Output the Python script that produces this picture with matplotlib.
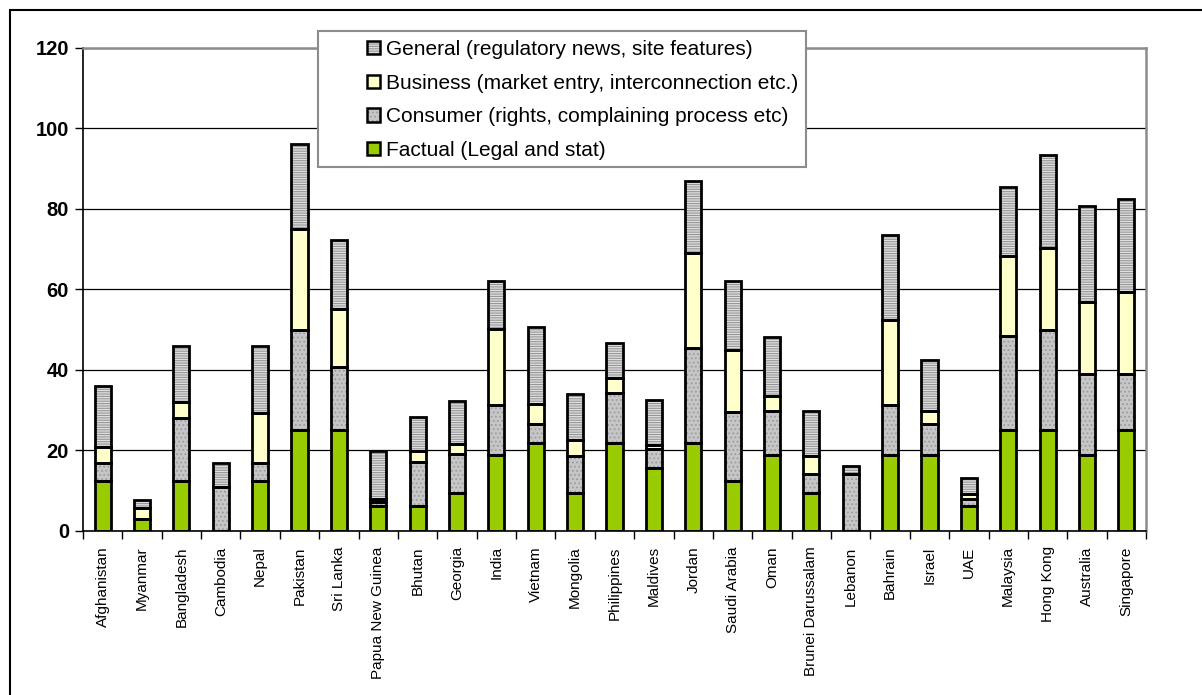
import numpy as np
import matplotlib.pyplot as plt
from matplotlib.patches import Patch, Rectangle
from matplotlib.legend_handler import HandlerTuple

plt.rcParams["font.family"] = ["Liberation Sans", "DejaVu Sans"]
plt.rcParams["hatch.linewidth"] = 0.8

countries = ["Afghanistan", "Myanmar", "Bangladesh", "Cambodia", "Nepal", "Pakistan",
             "Sri Lanka", "Papua New Guinea", "Bhutan", "Georgia", "India", "Vietnam",
             "Mongolia", "Philippines", "Maldives", "Jordan", "Saudi Arabia", "Oman",
             "Brunei Darussalam", "Lebanon", "Bahrain", "Israel", "UAE", "Malaysia",
             "Hong Kong", "Australia", "Singapore"]

factual = [12.5, 3.1, 12.5, 0, 12.5, 25.0, 25.0, 6.25, 6.25, 9.4, 18.75, 21.9, 9.4, 21.9,
           15.6, 21.9, 12.5, 18.75, 9.4, 0, 18.75, 18.75, 6.25, 25.0, 25.0, 18.75, 25.0]
consumer = [4.5, 0, 15.6, 10.9, 4.5, 25.0, 15.6, 1.0, 10.9, 9.8, 12.6, 4.7, 9.2, 12.4,
            4.7, 23.4, 17.1, 11.0, 4.7, 14.2, 12.4, 7.8, 1.7, 23.3, 24.8, 20.2, 14.0]
business = [3.9, 2.7, 3.8, 0, 12.4, 25.0, 14.6, 0.6, 2.7, 2.5, 18.7, 4.8, 3.9, 3.7,
            1.1, 23.7, 15.3, 3.7, 4.5, 0, 21.2, 3.2, 1.2, 20.0, 20.4, 17.8, 20.3]
general = [15.1, 1.9, 14.0, 6.0, 16.5, 21.1, 16.9, 12.1, 8.4, 10.6, 11.9, 19.2, 11.5, 8.7,
           11.2, 17.8, 17.2, 14.7, 11.3, 1.9, 21.0, 12.6, 4.1, 17.0, 23.2, 23.8, 23.1]

series = [
    ("Factual (Legal and stat)", factual, "#99cc00", "", "#99cc00"),
    ("Consumer (rights, complaining process etc)", consumer, "#c6c6c6", "....", "#9c9c9c"),
    ("Business (market entry, interconnection etc.)", business, "#ffffcc", "", "#ffffcc"),
    ("General (regulatory news, site features)", general, "#e0e0e0", "-------", "#969696"),
]

fig = plt.figure(figsize=(12.02, 6.95), dpi=100)
ax = fig.add_axes([83 / 1202, 1 - 531 / 695, (1146 - 83) / 1202, (531 - 47.5) / 695])

x = np.arange(len(countries))
width = 0.41
bottom = np.zeros(len(countries))
handles = []
for label, vals, color, hatch, hcolor in series:
    vals = np.array(vals)
    ax.bar(x, vals, width, bottom=bottom, color=color, hatch=hatch,
           edgecolor=hcolor, linewidth=0, zorder=2)
    ax.bar(x, vals, width, bottom=bottom, facecolor="none", edgecolor="black",
           linewidth=2, zorder=3)
    bottom += vals
    handles.append((Patch(facecolor=color, hatch=hatch, edgecolor=hcolor, linewidth=0),
                    Patch(facecolor="none", edgecolor="black", linewidth=1.8), label))

ax.set_xlim(-0.5, len(countries) - 0.5)
ax.set_ylim(0, 120)
ax.set_yticks(range(0, 121, 20))
ax.tick_params(axis="y", labelsize=14.5, length=6, width=1, direction="out", pad=4)
for t in ax.get_yticklabels():
    t.set_fontweight("bold")

ax.set_xticks(x)
ax.set_xticklabels(countries, rotation=90, fontsize=11)
ax.tick_params(axis="x", length=0, pad=11)
ax.set_xticks(np.arange(-0.5, len(countries), 1), minor=True)
ax.tick_params(axis="x", which="minor", length=6, width=1, direction="out")

ax.yaxis.grid(True, color="black", linewidth=0.9, zorder=0)
ax.set_axisbelow(True)
ax.spines["left"].set_color("black")
ax.spines["bottom"].set_color("black")
ax.spines["left"].set_linewidth(1.2)
ax.spines["bottom"].set_linewidth(1.2)
ax.spines["top"].set_color("#8c8c8c")
ax.spines["right"].set_color("#8c8c8c")
ax.spines["top"].set_linewidth(1.8)
ax.spines["right"].set_linewidth(1.8)

# legend box
box = Rectangle((318 / 1202, 1 - 167 / 695), (806 - 318) / 1202, (167 - 31) / 695,
                transform=fig.transFigure, facecolor="white", edgecolor="#8c8c8c",
                linewidth=1.5, zorder=5)
fig.patches.append(box)

leg_items = handles[::-1]
leg = fig.legend([(h[0], h[1]) for h in leg_items], [h[2] for h in leg_items],
                 handler_map={tuple: HandlerTuple(ndivide=1)},
                 loc="upper left", bbox_to_anchor=(367 / 1202, 1 - 40 / 695),
                 frameon=False, fontsize=15, handlelength=0.62, handleheight=0.62,
                 handletextpad=0.3, labelspacing=0.7, borderpad=0, borderaxespad=0)
leg.set_zorder(6)

# outer chart border
fig.patches.append(Rectangle((10 / 1202, -0.05), 1.1, 1 - 10 / 695 + 0.05,
                             transform=fig.transFigure, facecolor="none",
                             edgecolor="black", linewidth=1.5, zorder=0))

fig.savefig("out.png", dpi=100)
